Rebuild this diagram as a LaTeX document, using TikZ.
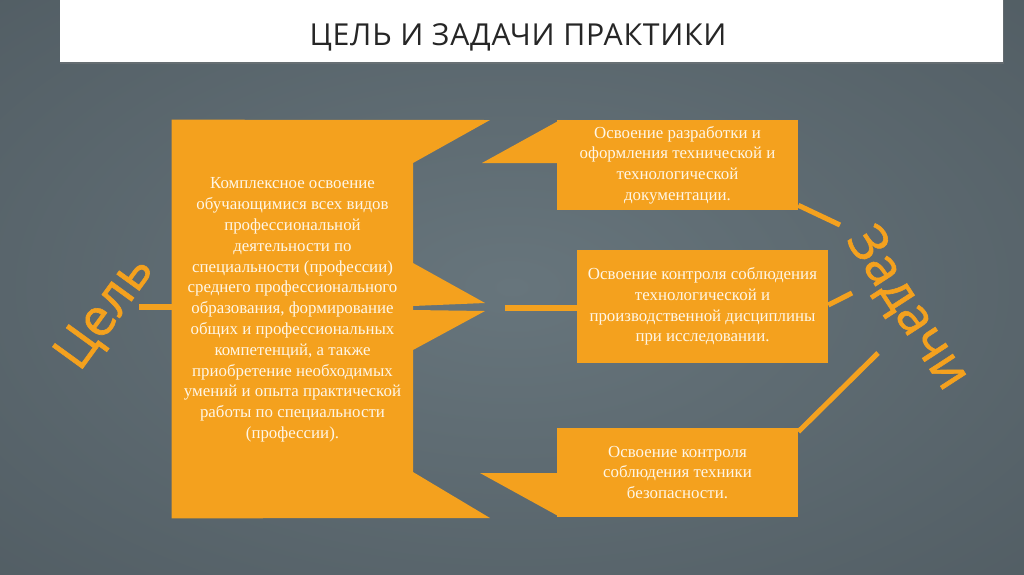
\documentclass[tikz,border=0pt]{standalone}
\usepackage{fontspec}
\setmainfont{Liberation Serif}
\newfontfamily\headfont[LetterSpace=2.5]{Open Sans}
\newfontfamily\labelfont[FakeBold=1.2]{Open Sans}
\usepackage{xcolor}
\usepackage{tikz}
\usetikzlibrary{positioning,shadows,calc}
\definecolor{slideorange}{HTML}{F4A11E}
\definecolor{bgin}{HTML}{67757C}
\definecolor{bgout}{HTML}{3E474D}
\definecolor{boxtext}{HTML}{FFF6E6}
\definecolor{titleink}{HTML}{262626}
\pgfdeclareradialshading{slidebg}{\pgfpoint{0bp}{0bp}}{color(0bp)=(bgin); color(72bp)=(bgout); color(100bp)=(bgout)}
\tikzset{
    titlebar/.style={rectangle, fill=white, minimum width=23.575cm, minimum height=1.75cm, inner sep=0, drop shadow={opacity=0.35, shadow xshift=0.4pt, shadow yshift=-1.6pt}},
    titletext/.style={text=titleink, inner sep=0, font=\headfont\fontsize{21.5}{21.5}\selectfont},
    goalbox/.style={rectangle, minimum width=6.025cm, minimum height=9.95cm, inner sep=0},
    taskbox/.style={rectangle, fill=slideorange, minimum width=6.025cm, minimum height=2.25cm, inner sep=0, align=center, text=boxtext, font=\fontsize{12}{14.6}\selectfont},
    bodytext/.style={align=center, text=boxtext, font=\fontsize{12}{14.8}\selectfont},
    tail/.style={fill=slideorange},
    link/.style={draw=slideorange, line width=3.6pt},
    bigword/.style={text=slideorange, inner sep=0, font=\labelfont\fontsize{37}{37}\selectfont},
}

\begin{document}
\begin{tikzpicture}[x=0.025cm, y=-0.025cm]
    \useasboundingbox (0,0) rectangle (1024,574);
    \shade[shading=slidebg] (0,0) rectangle (1024,574);

    \node[titlebar] (bar) at (531.5,27) {};
    \node[titletext] (title) at (518,37) {ЦЕЛЬ И ЗАДАЧИ ПРАКТИКИ};

    \node[goalbox] (goal) at (292.5,319) {};
    \fill[tail] (goal.north west) -- (490,120) -- (413,163) -- (413,263)
        -- (485,303) -- (413,306) -- (413,310) -- (485,311) -- (413,350)
        -- (413,472) -- (490,518) -- (goal.south west) -- cycle;
    \node[bodytext] (goaltext) at (292.5,310) {%
        Комплексное освоение\\
        обучающимися всех видов\\
        профессиональной\\
        деятельности по\\
        специальности (профессии)\\
        среднего профессионального\\
        образования, формирование\\
        общих и профессиональных\\
        компетенций, а также\\
        приобретение необходимых\\
        умений и опыта практической\\
        работы по специальности\\
        (профессии).
    };

    \fill[tail] (482,163) -- (560,120) -- (560,163) -- cycle;
    \fill[tail] (480,473) -- (560,473) -- (560,517) -- cycle;
    \node[taskbox] (task1) at (677.5,165) {%
        Освоение разработки и\\
        оформления технической и\\
        технологической\\
        документации.
    };
    \node[taskbox, minimum width=6.275cm, minimum height=2.825cm] (task2) at (702.5,306.5) {%
        Освоение контроля соблюдения\\
        технологической и\\
        производственной дисциплины\\
        при исследовании.
    };
    \node[taskbox, minimum height=2.225cm] (task3) at (677.5,472.5) {%
        Освоение контроля\\
        соблюдения техники\\
        безопасности.
    };

    \node[bigword, rotate=54] (goallabel) at (106,313) {Цель};
    \node[bigword, rotate=-57] (tasklabel) at (907,309) {Задачи};

    \coordinate (goalpin) at (139,307);
    \coordinate (midpin) at (505,308);
    \coordinate (tip1) at (840,225);
    \coordinate (tip2) at (852,293);
    \coordinate (tip3) at (878,353);
    \draw[link] (goalpin) -- (goalpin -| goal.west);
    \draw[link] (midpin) -- (midpin -| task2.west);
    \draw[link] ($(task1.south east)+(0,-5)$) -- (tip1);
    \draw[link] ($(task2.east)+(0,-1.5)$) -- (tip2);
    \draw[link] ($(task3.north east)+(0,4)$) -- (tip3);
\end{tikzpicture}
\end{document}
